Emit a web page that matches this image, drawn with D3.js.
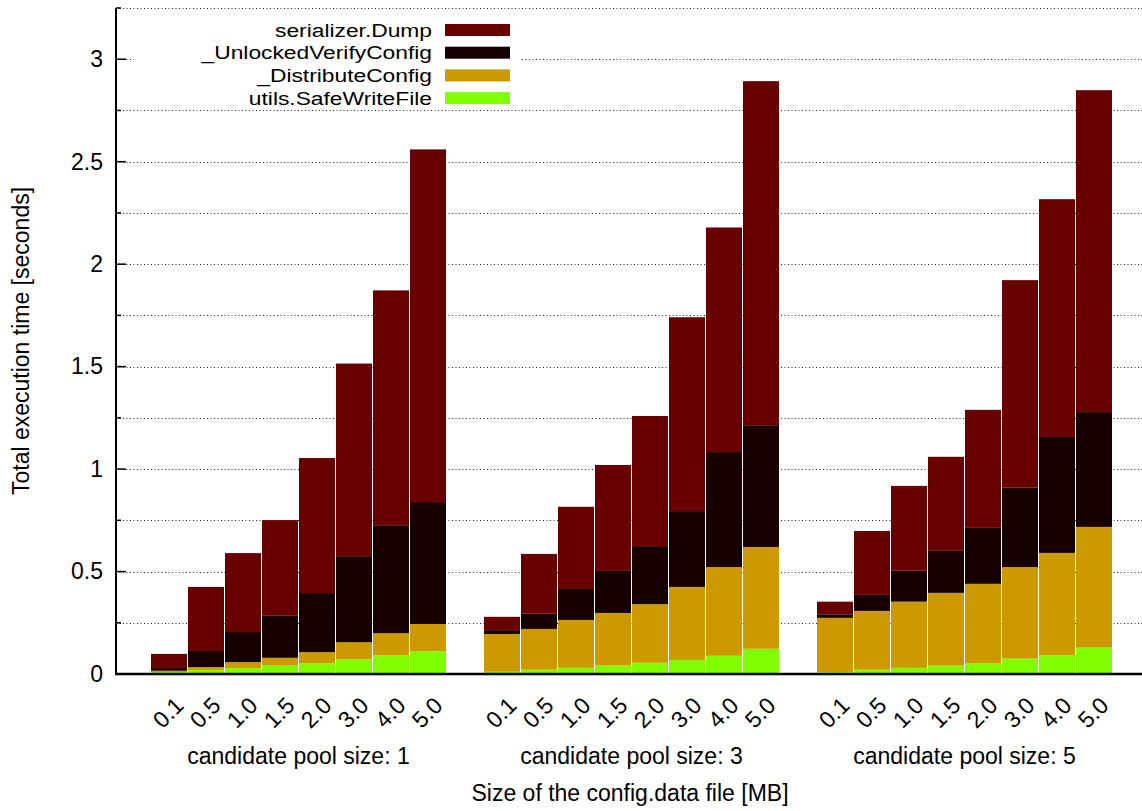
<!DOCTYPE html>
<html>
<head>
<meta charset="utf-8">
<script src="https://cdn.jsdelivr.net/npm/d3@7/dist/d3.min.js"></script>
<style>
  html, body { margin: 0; padding: 0; background: #fff; }
  svg { display: block; font-family: "Liberation Sans", Arial, Helvetica, sans-serif; }
</style>
</head>
<body>
<svg id="chart" width="1142" height="811"></svg>
<script>
// File sizes on the x axis (MB), repeated for each candidate pool size
const fileSizes = ["0.1", "0.5", "1.0", "1.5", "2.0", "3.0", "4.0", "5.0"];
const poolSizes = [1, 3, 5];
const yTickValues = [0, 0.5, 1, 1.5, 2, 2.5, 3];

// Execution time per function (seconds); 8 values per pool size, pools 1, 3, 5
const safeWriteFile = [
  0.010, 0.020, 0.029, 0.044, 0.053, 0.072, 0.092, 0.111,
  0.011, 0.021, 0.030, 0.042, 0.055, 0.068, 0.089, 0.123,
  0.009, 0.021, 0.030, 0.041, 0.054, 0.075, 0.093, 0.129
];
const distributeConfig = [
  0.006, 0.014, 0.029, 0.035, 0.054, 0.083, 0.107, 0.133,
  0.184, 0.199, 0.234, 0.256, 0.286, 0.357, 0.433, 0.497,
  0.265, 0.287, 0.323, 0.355, 0.386, 0.447, 0.498, 0.589
];
const unlockedVerifyConfig = [
  0.013, 0.078, 0.147, 0.205, 0.288, 0.420, 0.527, 0.595,
  0.019, 0.074, 0.151, 0.205, 0.283, 0.370, 0.561, 0.594,
  0.015, 0.078, 0.151, 0.205, 0.273, 0.387, 0.566, 0.560
];
const serializerDump = [
  0.069, 0.313, 0.385, 0.467, 0.659, 0.940, 1.146, 1.721,
  0.065, 0.292, 0.401, 0.517, 0.635, 0.946, 1.096, 1.679,
  0.064, 0.312, 0.414, 0.459, 0.576, 1.013, 1.160, 1.571
];

const seriesKeys = ["safeWriteFile", "distributeConfig", "unlockedVerifyConfig", "serializerDump"];
const seriesLabels = {
  serializerDump: "serializer.Dump",
  unlockedVerifyConfig: "_UnlockedVerifyConfig",
  distributeConfig: "_DistributeConfig",
  safeWriteFile: "utils.SafeWriteFile"
};
const seriesColors = {
  serializerDump: "#680000",
  unlockedVerifyConfig: "#160000",
  distributeConfig: "#cc9900",
  safeWriteFile: "#80ff00"
};
const legendOrder = ["serializerDump", "unlockedVerifyConfig", "distributeConfig", "safeWriteFile"];

// One row per bar: its slot on the x axis and its four components
const rows = [];
poolSizes.forEach((pool, g) => {
  fileSizes.forEach((size, i) => {
    const k = g * fileSizes.length + i;
    rows.push({
      slot: g * (fileSizes.length + 1) + i,
      pool, size,
      safeWriteFile: safeWriteFile[k],
      distributeConfig: distributeConfig[k],
      unlockedVerifyConfig: unlockedVerifyConfig[k],
      serializerDump: serializerDump[k]
    });
  });
});

const FS = 23;
const svg = d3.select("#chart");
const left = 116, right = 1142, base = 674;

const y = d3.scaleLinear().domain([0, 3.25]).range([base, 8]);
const x = d3.scaleLinear().domain([0, 25]).range([169, 1094]);
const barW = 36;

// Dotted grid at every 0.25
const gridValues = d3.range(0.25, 3.2501, 0.25);
svg.append("g").selectAll("line").data(gridValues).join("line")
  .attr("x1", left).attr("x2", right)
  .attr("y1", d => Math.round(y(d)) + 0.5).attr("y2", d => Math.round(y(d)) + 0.5)
  .attr("stroke", "#222").attr("stroke-width", 1)
  .attr("stroke-dasharray", "1,2.5");

// Stacked bars
const stacked = d3.stack().keys(seriesKeys)(rows);
svg.append("g").selectAll("g").data(stacked).join("g")
  .attr("fill", s => seriesColors[s.key])
  .selectAll("rect").data(s => s).join("rect")
  .attr("x", d => x(d.data.slot) - barW / 2)
  .attr("width", barW)
  .attr("y", d => y(d[1]))
  .attr("height", d => y(d[0]) - y(d[1]));

// Legend with white background; entries are tightly packed, so the text
// uses a slightly smaller size widened horizontally
const legend = svg.append("g");
legend.append("rect").attr("x", 134).attr("y", 16).attr("width", 388).attr("height", 88).attr("fill", "#fff");
legendOrder.forEach((key, i) => {
  const ly = 30 + i * 22.7;
  legend.append("text")
    .attr("transform", `translate(432,${ly}) scale(1.2,1)`)
    .attr("text-anchor", "end").attr("dominant-baseline", "central")
    .attr("font-size", 19).attr("fill", "#000")
    .text(seriesLabels[key]);
  legend.append("rect")
    .attr("x", 445).attr("y", ly - 6).attr("width", 65).attr("height", 12)
    .attr("fill", seriesColors[key]);
});

// Y axis: labels from d3.axisLeft, inward tick marks drawn alongside
const yAxis = d3.axisLeft(y).tickValues(yTickValues).tickFormat(d3.format("")).tickSize(0).tickPadding(13);
const yAxisG = svg.append("g").attr("transform", `translate(${left},0)`).call(yAxis);
yAxisG.select(".domain").remove();
yAxisG.selectAll("text").attr("font-size", FS).attr("font-family", "Liberation Sans, Arial, sans-serif").attr("fill", "#000");

const tickG = svg.append("g").attr("stroke", "#000").attr("stroke-width", 1.5);
d3.range(0, 3.2501, 0.25).forEach(v => {
  const major = Math.abs(v * 2 - Math.round(v * 2)) < 1e-9;
  tickG.append("line")
    .attr("x1", left).attr("x2", left + (major ? 10 : 5))
    .attr("y1", y(v)).attr("y2", y(v));
});

// Axis lines
svg.append("line").attr("x1", left).attr("x2", left).attr("y1", y(3.25)).attr("y2", base)
  .attr("stroke", "#000").attr("stroke-width", 2);
svg.append("line").attr("x1", left - 1).attr("x2", right).attr("y1", base).attr("y2", base)
  .attr("stroke", "#000").attr("stroke-width", 2.5);

// Rotated file-size labels under each bar
svg.append("g").selectAll("text").data(rows).join("text")
  .attr("transform", d => `translate(${x(d.slot) + 16},${base + 33}) rotate(-45)`)
  .attr("text-anchor", "end")
  .attr("font-size", FS).attr("fill", "#000")
  .text(d => d.size);

// Group labels
poolSizes.forEach((pool, g) => {
  const c = (x(g * 9) + x(g * 9 + 7)) / 2;
  svg.append("text").attr("x", c).attr("y", 764)
    .attr("text-anchor", "middle").attr("font-size", FS).attr("fill", "#000")
    .text(`candidate pool size: ${pool}`);
});

// Axis titles
svg.append("text").attr("x", 630).attr("y", 801)
  .attr("text-anchor", "middle").attr("font-size", FS).attr("fill", "#000")
  .text("Size of the config.data file [MB]");
svg.append("text")
  .attr("transform", `translate(29,${(y(3.25) + base) / 2}) rotate(-90)`)
  .attr("text-anchor", "middle").attr("font-size", FS).attr("fill", "#000")
  .text("Total execution time [seconds]");
</script>
</body>
</html>
